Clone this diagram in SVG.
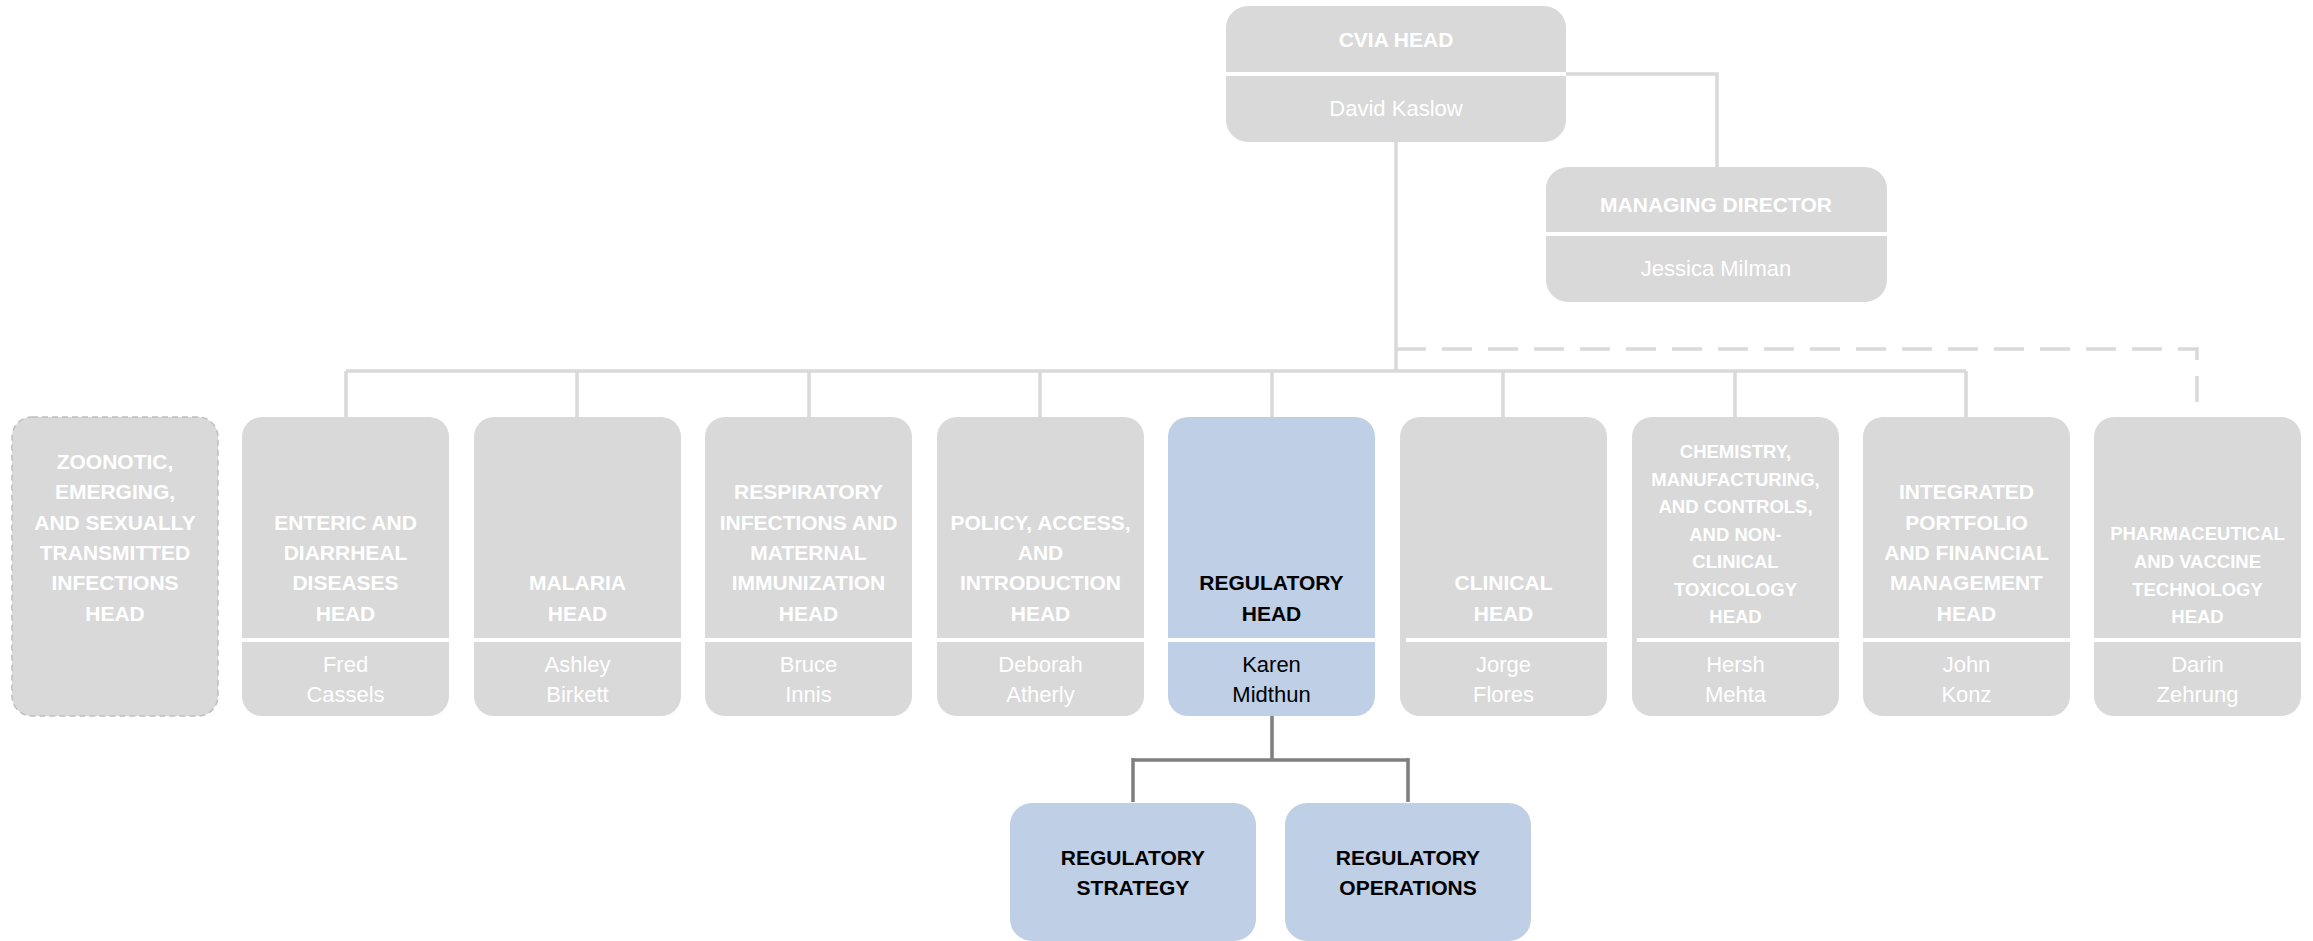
<svg xmlns="http://www.w3.org/2000/svg" width="2313" height="941" viewBox="0 0 2313 941">
<style>
.box{fill:#d9d9d9}
.blue{fill:#bfcfe6}
.div{stroke:#ffffff;stroke-width:4}
.t{font-family:"Liberation Sans",Arial,sans-serif;font-weight:bold;font-size:21px;fill:#ffffff;text-anchor:middle}
.ts{font-family:"Liberation Sans",Arial,sans-serif;font-weight:bold;font-size:18.5px;fill:#ffffff;text-anchor:middle}
.n{font-family:"Liberation Sans",Arial,sans-serif;font-size:22px;fill:#ffffff;text-anchor:middle}
.dk{fill:#000000}
.c{fill:none;stroke:#d9d9d9;stroke-width:3.5}
.cd{fill:none;stroke:#d9d9d9;stroke-width:3.5;stroke-dasharray:30 16}
.cg{fill:none;stroke:#7f7f7f;stroke-width:3.5}
</style>
<g id="connectors">
<path class="c" d="M1566 74 H1717 V167"/>
<path class="c" d="M1396 142 V371"/>
<path class="c" d="M346 371 H1966"/>
<path class="c" d="M346 371 V417 M577 371 V417 M809 371 V417 M1040 371 V417 M1272 371 V417 M1503 371 V417 M1735 371 V417 M1966 371 V417"/>
<path class="cd" d="M1396 349 H2197 V402"/>
<path class="cg" d="M1272 716 V760 M1133 760 H1408 M1133 758 V802 M1408 758 V802"/>
</g>
<g id="cvia">
<rect class="box" x="1226" y="6" width="340" height="136" rx="22"/>
<line class="div" x1="1226" y1="74" x2="1566" y2="74"/>
<text class="t" x="1396" y="47">CVIA HEAD</text>
<text class="n" x="1396" y="116">David Kaslow</text>
</g>
<g id="md">
<rect class="box" x="1546" y="167" width="341" height="135" rx="22"/>
<line class="div" x1="1546" y1="234" x2="1887" y2="234"/>
<text class="t" x="1716" y="212">MANAGING DIRECTOR</text>
<text class="n" x="1716" y="276">Jessica Milman</text>
</g>
<g id="zoonotic">
<rect class="box" x="12" y="417" width="206" height="299" rx="20" stroke="#bfbfbf" stroke-width="1.5" stroke-dasharray="6 4"/>
<text class="t" x="115" y="469">ZOONOTIC,</text>
<text class="t" x="115" y="499">EMERGING,</text>
<text class="t" x="115" y="530">AND SEXUALLY</text>
<text class="t" x="115" y="560">TRANSMITTED</text>
<text class="t" x="115" y="590">INFECTIONS</text>
<text class="t" x="115" y="621">HEAD</text>
</g>
<g id="enteric">
<rect class="box" x="242" y="417" width="207" height="299" rx="20"/>
<line class="div" x1="242" y1="640" x2="449" y2="640"/>
<text class="t" x="345.5" y="530">ENTERIC AND</text>
<text class="t" x="345.5" y="560">DIARRHEAL</text>
<text class="t" x="345.5" y="590">DISEASES</text>
<text class="t" x="345.5" y="621">HEAD</text>
<text class="n" x="345.5" y="672">Fred</text>
<text class="n" x="345.5" y="702">Cassels</text>
</g>
<g id="malaria">
<rect class="box" x="474" y="417" width="207" height="299" rx="20"/>
<line class="div" x1="474" y1="640" x2="681" y2="640"/>
<text class="t" x="577.5" y="590">MALARIA</text>
<text class="t" x="577.5" y="621">HEAD</text>
<text class="n" x="577.5" y="672">Ashley</text>
<text class="n" x="577.5" y="702">Birkett</text>
</g>
<g id="respiratory">
<rect class="box" x="705" y="417" width="207" height="299" rx="20"/>
<line class="div" x1="705" y1="640" x2="912" y2="640"/>
<text class="t" x="808.5" y="499">RESPIRATORY</text>
<text class="t" x="808.5" y="530">INFECTIONS AND</text>
<text class="t" x="808.5" y="560">MATERNAL</text>
<text class="t" x="808.5" y="590">IMMUNIZATION</text>
<text class="t" x="808.5" y="621">HEAD</text>
<text class="n" x="808.5" y="672">Bruce</text>
<text class="n" x="808.5" y="702">Innis</text>
</g>
<g id="policy">
<rect class="box" x="937" y="417" width="207" height="299" rx="20"/>
<line class="div" x1="937" y1="640" x2="1144" y2="640"/>
<text class="t" x="1040.5" y="530">POLICY, ACCESS,</text>
<text class="t" x="1040.5" y="560">AND</text>
<text class="t" x="1040.5" y="590">INTRODUCTION</text>
<text class="t" x="1040.5" y="621">HEAD</text>
<text class="n" x="1040.5" y="672">Deborah</text>
<text class="n" x="1040.5" y="702">Atherly</text>
</g>
<g id="regulatory">
<rect class="blue" x="1168" y="417" width="207" height="299" rx="20"/>
<line class="div" x1="1168" y1="640" x2="1375" y2="640"/>
<text class="t dk" x="1271.5" y="590">REGULATORY</text>
<text class="t dk" x="1271.5" y="621">HEAD</text>
<text class="n dk" x="1271.5" y="672">Karen</text>
<text class="n dk" x="1271.5" y="702">Midthun</text>
</g>
<g id="clinical">
<rect class="box" x="1400" y="417" width="207" height="299" rx="20"/>
<line class="div" x1="1406" y1="640" x2="1607" y2="640"/>
<text class="t" x="1503.5" y="590">CLINICAL</text>
<text class="t" x="1503.5" y="621">HEAD</text>
<text class="n" x="1503.5" y="672">Jorge</text>
<text class="n" x="1503.5" y="702">Flores</text>
</g>
<g id="chemistry">
<rect class="box" x="1632" y="417" width="207" height="299" rx="20"/>
<line class="div" x1="1637" y1="640" x2="1839" y2="640"/>
<text class="ts" x="1735.5" y="458">CHEMISTRY,</text>
<text class="ts" x="1735.5" y="485.5">MANUFACTURING,</text>
<text class="ts" x="1735.5" y="513">AND CONTROLS,</text>
<text class="ts" x="1735.5" y="541">AND NON-</text>
<text class="ts" x="1735.5" y="568">CLINICAL</text>
<text class="ts" x="1735.5" y="595.5">TOXICOLOGY</text>
<text class="ts" x="1735.5" y="623">HEAD</text>
<text class="n" x="1735.5" y="672">Hersh</text>
<text class="n" x="1735.5" y="702">Mehta</text>
</g>
<g id="integrated">
<rect class="box" x="1863" y="417" width="207" height="299" rx="20"/>
<line class="div" x1="1863" y1="640" x2="2070" y2="640"/>
<text class="t" x="1966.5" y="499">INTEGRATED</text>
<text class="t" x="1966.5" y="530">PORTFOLIO</text>
<text class="t" x="1966.5" y="560">AND FINANCIAL</text>
<text class="t" x="1966.5" y="590">MANAGEMENT</text>
<text class="t" x="1966.5" y="621">HEAD</text>
<text class="n" x="1966.5" y="672">John</text>
<text class="n" x="1966.5" y="702">Konz</text>
</g>
<g id="pharma">
<rect class="box" x="2094" y="417" width="207" height="299" rx="20"/>
<line class="div" x1="2094" y1="640" x2="2301" y2="640"/>
<text class="ts" x="2197.5" y="539.5">PHARMACEUTICAL</text>
<text class="ts" x="2197.5" y="568">AND VACCINE</text>
<text class="ts" x="2197.5" y="595.5">TECHNOLOGY</text>
<text class="ts" x="2197.5" y="623">HEAD</text>
<text class="n" x="2197.5" y="672">Darin</text>
<text class="n" x="2197.5" y="702">Zehrung</text>
</g>
<g id="reg-strategy">
<rect class="blue" x="1010" y="803" width="246" height="138" rx="22"/>
<text class="t dk" x="1133" y="865">REGULATORY</text>
<text class="t dk" x="1133" y="895">STRATEGY</text>
</g>
<g id="reg-operations">
<rect class="blue" x="1285" y="803" width="246" height="138" rx="22"/>
<text class="t dk" x="1408" y="865">REGULATORY</text>
<text class="t dk" x="1408" y="895">OPERATIONS</text>
</g>
</svg>
